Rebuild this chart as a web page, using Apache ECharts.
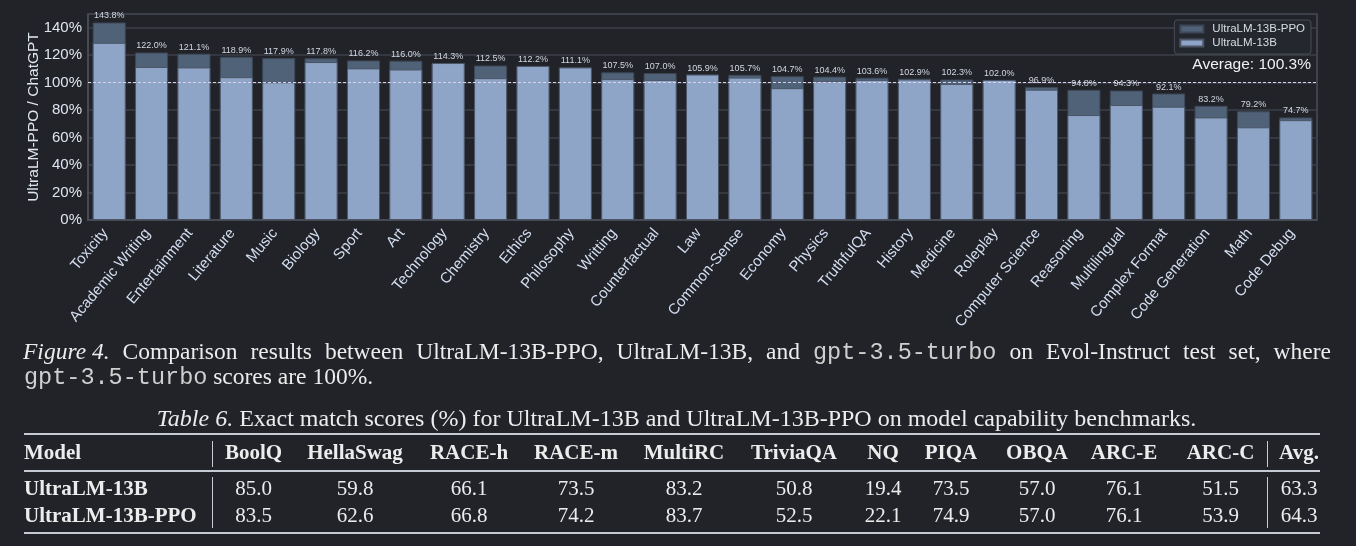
<!DOCTYPE html>
<html><head><meta charset="utf-8">
<script src="https://cdn.jsdelivr.net/npm/echarts@6/dist/echarts.min.js"></script>
<style>
html,body{margin:0;padding:0;background:#212329;}
#wrap{position:relative;width:1356px;height:546px;overflow:hidden;background:#212329;}
#chart{position:absolute;left:0;top:0;width:1356px;height:546px;}
.t{position:absolute;font-family:'Liberation Serif','Times New Roman',serif;font-size:21px;color:#ececec;line-height:24px;white-space:nowrap;}
.cap{font-size:23.5px;line-height:28px;}
.ttl{font-size:24px;line-height:28px;}
.mono{font-family:'Liberation Mono','DejaVu Sans Mono',monospace;font-size:23.5px;color:#cfcfcf;}
.ib{display:inline-block;}
.b{font-weight:bold;}
.rule{position:absolute;background:#c6cad3;}
</style></head><body><div id="wrap"><div id="chart"></div></div>
<script>
const categories=['Toxicity','Academic Writing','Entertainment','Literature','Music','Biology','Sport','Art','Technology','Chemistry','Ethics','Philosophy','Writting','Counterfactual','Law','Common-Sense','Economy','Physics','TruthfulQA','History','Medicine','Roleplay','Computer Science','Reasoning','Multilingual','Complex Format','Code Generation','Math','Code Debug'];
const ppoValues=[143.8,122.0,121.1,118.9,117.9,117.8,116.2,116.0,114.3,112.5,112.2,111.1,107.5,107.0,105.9,105.7,104.7,104.4,103.6,102.9,102.3,102.0,96.9,94.8,94.3,92.1,83.2,79.2,74.7];
const baseValues=[129.0,111.4,111.1,104.0,100.3,115.0,110.4,109.6,114.3,103.3,112.2,111.1,102.6,102.0,105.9,103.7,96.0,101.1,102.0,102.3,99.1,102.0,94.9,76.4,83.7,82.5,74.7,67.5,72.7];
const seriesNames=['UltraLM-13B-PPO','UltraLM-13B'];
const averageText='Average: 100.3%';
const yAxisName='UltraLM-PPO / ChatGPT';
const yTicks=[0,20,40,60,80,100,120,140];

const captionLabel='Figure 4.';
const captionLine1Before='Comparison results between UltraLM-13B-PPO, UltraLM-13B, and ';
const captionCode='gpt-3.5-turbo';
const captionLine1After=' on Evol-Instruct test set, where';
const captionLine2After=' scores are 100%.';
const tableLabel='Table 6.';
const tableTitle='Exact match scores (%) for UltraLM-13B and UltraLM-13B-PPO on model capability benchmarks.';
const tableHeaders=['Model','BoolQ','HellaSwag','RACE-h','RACE-m','MultiRC','TriviaQA','NQ','PIQA','OBQA','ARC-E','ARC-C','Avg.'];
const tableModels=['UltraLM-13B','UltraLM-13B-PPO'];
const row13B=[85.0,59.8,66.1,73.5,83.2,50.8,19.4,73.5,57.0,76.1,51.5,63.3];
const row13BPPO=[83.5,62.6,66.8,74.2,83.7,52.5,22.1,74.9,57.0,76.1,53.9,64.3];

// layout
const colCenters=[null,253.5,355,469,576,684,794,883,951,1037,1124,1220.5,1299];
const wrap=document.getElementById('wrap');
function add(html,cls,style){const d=document.createElement('div');d.className=cls;d.innerHTML=html;Object.assign(d.style,style);wrap.appendChild(d);return d;}
// caption
add('<i class="ib">'+captionLabel+'</i> '+captionLine1Before+'<span class="mono ib">'+captionCode+'</span>'+captionLine1After,'t cap',{left:'23px',top:'337px',width:'1308px',whiteSpace:'normal',textAlign:'justify',textAlignLast:'justify'});
add('<span class="mono">'+captionCode+'</span>'+captionLine2After,'t cap',{left:'24px',top:'362px'});
add('<i>'+tableLabel+'</i> '+tableTitle,'t ttl',{left:'676.5px',top:'403.5px',transform:'translateX(-50%)'});
// rules
add('','rule',{left:'24px',top:'433px',width:'1296px',height:'2px'});
add('','rule',{left:'24px',top:'470px',width:'1296px',height:'1.5px'});
add('','rule',{left:'24px',top:'532px',width:'1296px',height:'2px'});
[211.5,1267].forEach(x=>{
  add('','rule',{left:x+'px',top:'441px',width:'1px',height:'26px'});
  add('','rule',{left:x+'px',top:'477px',width:'1px',height:'51px'});
});
// header
tableHeaders.forEach((h,i)=>{
  if(i===0) add(h,'t b',{left:'24px',top:'440px'});
  else add(h,'t b',{left:colCenters[i]+'px',top:'440px',transform:'translateX(-50%)'});
});
[[tableModels[0],row13B,476],[tableModels[1],row13BPPO,502.5]].forEach(([name,vals,top])=>{
  add(name,'t b',{left:'24px',top:top+'px'});
  vals.forEach((v,j)=>add(v.toFixed(1),'t',{left:colCenters[j+1]+'px',top:top+'px',transform:'translateX(-50%)'}));
});

const chart=echarts.init(document.getElementById('chart'),null,{renderer:'canvas'});
const sans="'Liberation Sans', Arial, sans-serif";
chart.setOption({
  backgroundColor:'#212329',
  animation:false,
  textStyle:{fontFamily:sans},
  grid:{left:88,right:39,top:14,bottom:326,show:true,borderColor:'#4a4e58',borderWidth:1.5,backgroundColor:'transparent'},
  legend:{
    data:seriesNames,orient:'vertical',right:45,top:20,
    icon:'rect',itemWidth:23,itemHeight:7,itemGap:2,
    padding:[3,6,5,5],
    backgroundColor:'#24272d',borderColor:'#474c57',borderWidth:1,borderRadius:3,
    textStyle:{color:'#d8dde8',fontSize:11.5,fontFamily:sans,padding:[0,0,0,4]}
  },
  graphic:[{type:'text',right:45,top:57,style:{text:averageText,fontSize:15.5,fill:'#eef0f5',fontFamily:sans}}],
  xAxis:{
    type:'category',data:categories,
    axisLine:{show:true,lineStyle:{color:'#4a4e58',width:1.5}},
    axisTick:{show:false},
    axisLabel:{interval:0,rotate:50,margin:6,color:'#d3ddef',fontSize:15,fontFamily:sans,padding:[0,6,0,0]}
  },
  yAxis:{
    type:'value',min:0,max:150,interval:20,
    name:yAxisName,nameLocation:'middle',nameGap:46,nameMoveOverlap:false,
    nameTextStyle:{color:'#dfe5ef',fontSize:15.5,fontFamily:sans},
    axisLine:{show:true,lineStyle:{color:'#4a4e58',width:1.5}},
    axisTick:{show:false},
    axisLabel:{color:'#dfe5ef',fontSize:15,margin:6,showMaxLabel:false,fontFamily:sans,formatter:v=>yTicks.includes(v)?v+'%':''},
    splitLine:{show:true,lineStyle:{color:'#3c404a',width:1.5}}
  },
  series:[
    {name:seriesNames[0],type:'bar',data:ppoValues,barCategoryGap:'22%',barGap:'-100%',
     itemStyle:{color:'#4f6277',borderColor:'#3d4757',borderWidth:1},
     label:{show:true,position:'top',distance:2,fontSize:9,color:'#d2d8e3',fontFamily:sans,formatter:p=>p.value.toFixed(1)+'%'}},
    {name:seriesNames[1],type:'bar',data:baseValues,barCategoryGap:'22%',barGap:'-100%',
     itemStyle:{color:'#8ea5c7',borderColor:'#4b5566',borderWidth:1},
     markLine:{silent:true,symbol:['none','none'],label:{show:false},
       lineStyle:{color:'#d9d2ec',type:[3,2],width:1.2},data:[{yAxis:100}]}}
  ]
});
</script></body></html>
